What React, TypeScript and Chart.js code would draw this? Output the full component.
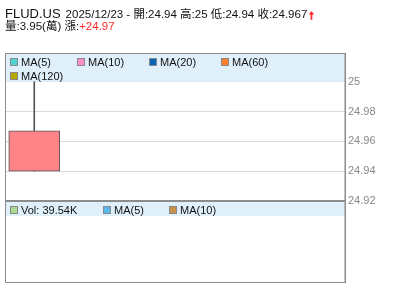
import React, { useEffect, useRef } from "react";
import { Chart, registerables } from "chart.js";

Chart.register(...registerables);

// ---- data ----
const symbol = "FLUD.US";
const dateLabel = "2025/12/23";
const xLabels = ["2025/12/23", "", "", "", "", ""];
const openValues = [24.94, null, null, null, null, null];
const highValues = [25, null, null, null, null, null];
const lowValues = [24.94, null, null, null, null, null];
const closeValues = [24.967, null, null, null, null, null];
const volumeText = "3.95(萬)";
const changeText = "+24.97";
const volLegendText = "Vol: 39.54K";
const yTicks = [24.92, 24.94, 24.96, 24.98, 25];
const yMin = 24.92;
const yMax = 25.0186;
const maLegend = [
  { label: "MA(5)", color: "#4fd6d0" },
  { label: "MA(10)", color: "#ff8fc8" },
  { label: "MA(20)", color: "#0a66b8" },
  { label: "MA(60)", color: "#ff7f2a" },
  { label: "MA(120)", color: "#b5a800" },
];
const volLegend = [
  { label: volLegendText, color: "#a8dc90" },
  { label: "MA(5)", color: "#5ab8ea" },
  { label: "MA(10)", color: "#c8904a" },
];

const FONT = '"Liberation Sans", Arial, "Noto Sans CJK TC", sans-serif';

export default function App() {
  const ref = useRef<HTMLCanvasElement>(null);
  useEffect(() => {
    const canvas = ref.current!;
    const overlay = {
      id: "overlay",
      beforeDatasetsDraw(chart: any) {
        const ctx = chart.ctx;
        const a = chart.chartArea;
        ctx.save();
        ctx.fillStyle = "#e0f0fa";
        ctx.fillRect(a.left, a.top, a.right - a.left, chart.scales.y.getPixelForValue(25) - a.top);
        ctx.restore();
      },
      afterDraw(chart: any) {
        const ctx = chart.ctx;
        const a = chart.chartArea;
        const yS = chart.scales.y;
        const sepY = yS.getPixelForValue(yMin);
        const bottom = 282;
        ctx.save();
        // volume legend band
        ctx.fillStyle = "#e0f0fa";
        ctx.fillRect(a.left, sepY + 1, a.right - a.left, 14);
        // frame
        ctx.strokeStyle = "#8c8c8c";
        ctx.lineWidth = 1;
        ctx.beginPath();
        ctx.moveTo(a.left - 0.5, a.top - 0.5);
        ctx.lineTo(a.right, a.top - 0.5);
        ctx.moveTo(a.left - 0.5, a.top - 0.5);
        ctx.lineTo(a.left - 0.5, bottom + 0.5);
        ctx.lineTo(a.right, bottom + 0.5);
        ctx.stroke();
        ctx.lineWidth = 1.5;
        ctx.beginPath();
        ctx.moveTo(a.right + 0.25, a.top - 1);
        ctx.lineTo(a.right + 0.25, bottom + 1);
        ctx.stroke();
        ctx.lineWidth = 2;
        ctx.beginPath();
        ctx.moveTo(a.left, sepY);
        ctx.lineTo(a.right, sepY);
        ctx.stroke();

        // legends
        const drawLegend = (items: any[], positions: number[][]) => {
          ctx.font = "11px " + FONT;
          ctx.textBaseline = "alphabetic";
          items.forEach((it, i) => {
            const [x, y] = positions[i];
            ctx.fillStyle = it.color;
            ctx.fillRect(x, y - 7, 7, 7);
            ctx.strokeStyle = "#888";
            ctx.lineWidth = 1;
            ctx.strokeRect(x + 0.5, y - 7.5, 7, 7);
            ctx.fillStyle = "#111";
            ctx.fillText(it.label, x + 11, y);
          });
        };
        drawLegend(maLegend, [
          [10, 66],
          [77, 66],
          [149, 66],
          [221, 66],
          [10, 80],
        ]);
        drawLegend(volLegend, [
          [10, 214],
          [103, 214],
          [169, 214],
        ]);

        // title
        ctx.textBaseline = "alphabetic";
        ctx.fillStyle = "#111";
        ctx.font = "13px " + FONT;
        ctx.fillText(symbol, 5, 17.5);
        let x = 5 + ctx.measureText(symbol).width + 5;
        ctx.font = "11.5px " + FONT;
        const line1 =
          dateLabel +
          " - 開:" + openValues[0] +
          " 高:" + highValues[0] +
          " 低:" + lowValues[0] +
          " 收:" + closeValues[0];
        ctx.fillText(line1, x, 17.5);
        x += ctx.measureText(line1).width + 1;
        ctx.fillStyle = "#ff2a2a";
        ctx.strokeStyle = "#ff2a2a";
        ctx.lineWidth = 1.2;
        ctx.font = "bold 12px " + FONT;
        ctx.fillText("↑", x, 19);
        ctx.strokeText("↑", x, 19);
        ctx.font = "11.5px " + FONT;
        ctx.fillStyle = "#111";
        const line2 = "量:" + volumeText + " 漲:";
        ctx.fillText(line2, 5, 29.5);
        const x2 = 5 + ctx.measureText(line2).width;
        ctx.fillStyle = "#ff2a2a";
        ctx.fillText(changeText, x2, 29.5);
        ctx.restore();
      },
    };

    const chart = new Chart(canvas, {
      type: "bar",
      data: {
        labels: xLabels,
        datasets: [
          {
            label: "body",
            data: openValues.map((o, i) => (o == null ? null : [o, closeValues[i] as number])) as any,
            backgroundColor: "#ff8488",
            borderColor: "#555",
            borderWidth: 1,
            borderSkipped: false,
            barThickness: 51,
            grouped: false,
            order: 0,
          },
          {
            label: "wick",
            data: lowValues.map((l, i) => (l == null ? null : [l, highValues[i] as number])) as any,
            backgroundColor: "#555",
            borderWidth: 0,
            barThickness: 1,
            grouped: false,
            order: 1,
          },
        ],
      },
      options: {
        responsive: false,
        animation: false,
        devicePixelRatio: 1,
        layout: { padding: { top: 54, bottom: 100, left: 6, right: 0 } },
        plugins: { legend: { display: false }, tooltip: { enabled: false } },
        scales: {
          x: { display: false, offset: true },
          y: {
            position: "right",
            min: yMin,
            max: yMax,
            afterBuildTicks: (s: any) => {
              s.ticks = yTicks.map((v) => ({ value: v }));
            },
            afterFit: (s: any) => {
              s.width = 55;
            },
            grid: { color: "#d9d9d9", drawTicks: false, lineWidth: 1 },
            border: { display: false },
            ticks: {
              padding: 3,
              color: "#888",
              font: { size: 11, family: FONT },
              callback: (v: any) => String(Number(Number(v).toFixed(2))),
            },
          },
        },
      },
      plugins: [overlay],
    });
    return () => chart.destroy();
  }, []);
  return (
    <div style={{ position: "fixed", left: 0, top: 0, width: 400, height: 301, background: "#fff" }}>
      <canvas ref={ref} width={400} height={301} />
    </div>
  );
}
